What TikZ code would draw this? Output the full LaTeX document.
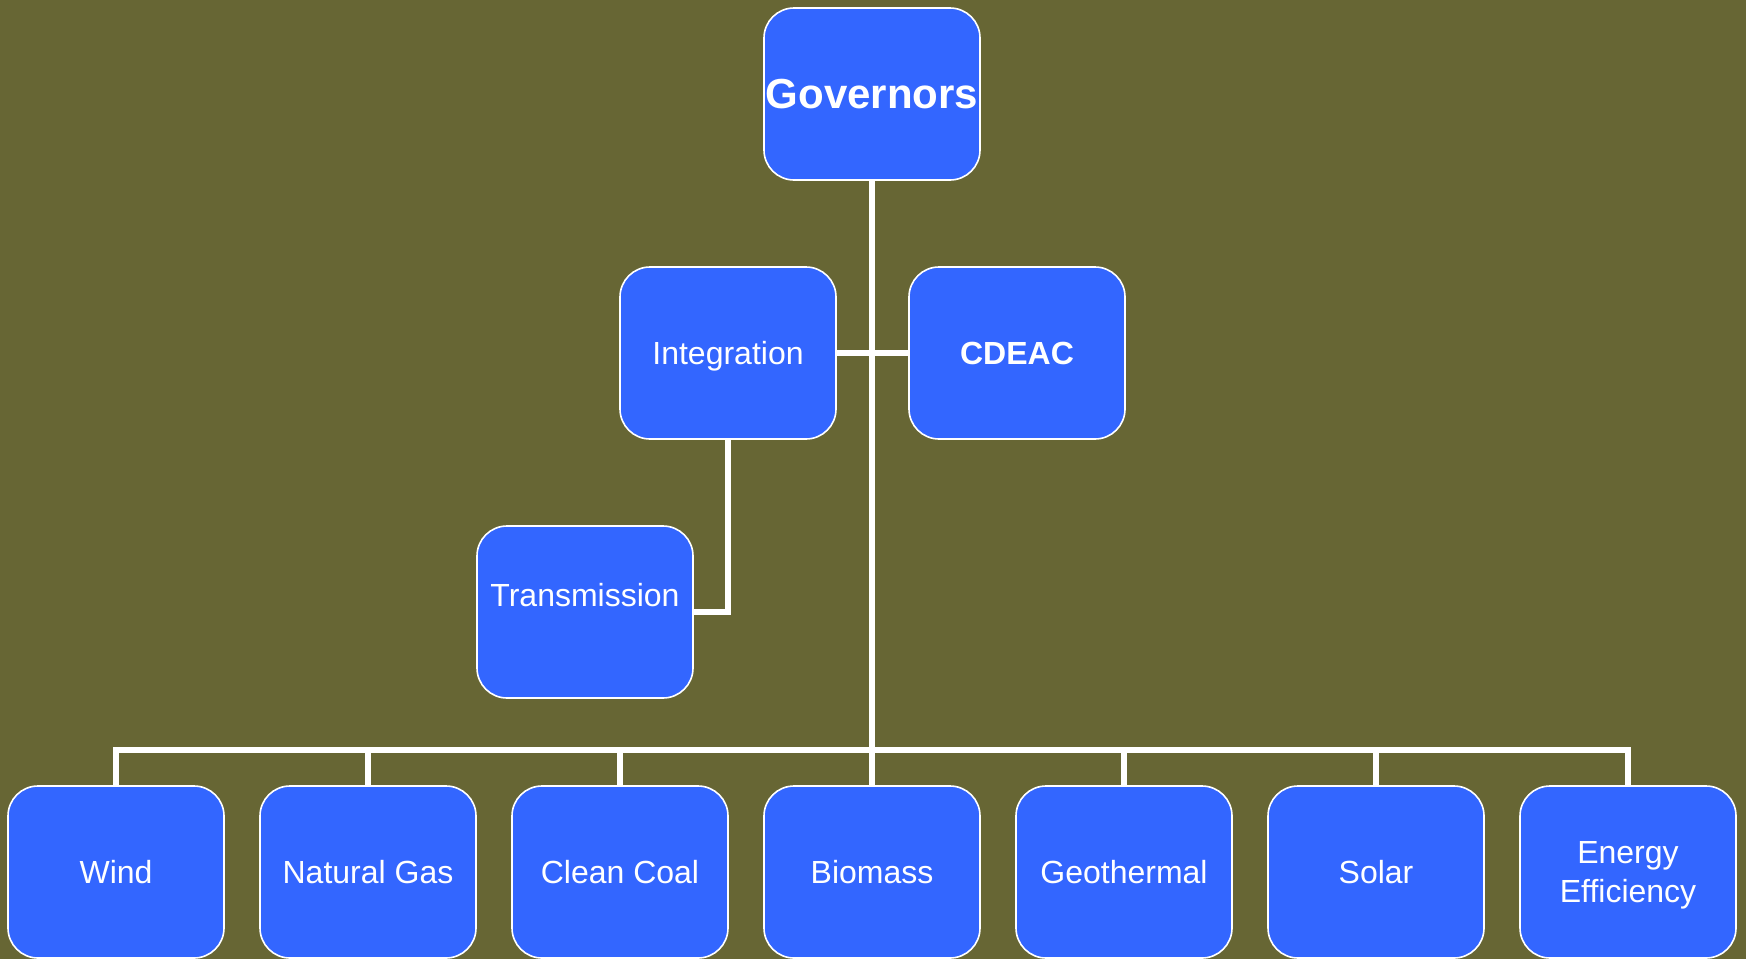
\documentclass[tikz,border=0pt]{standalone}
\usepackage{fontspec}
\setmainfont{Liberation Sans}
\usepackage{tikz}
\usetikzlibrary{calc}
\definecolor{olivebg}{RGB}{103,102,52}
\definecolor{boxblue}{RGB}{51,102,255}

\begin{document}
\begin{tikzpicture}[x=0.5pt,y=-0.5pt,
    box/.style={draw=white,line width=0.8pt,fill=boxblue,rounded corners=15pt,
      minimum width=108pt,minimum height=86pt,text=white,align=center,text depth=0pt,
      font=\fontsize{16}{19.2}\selectfont},
    conn/.style={draw=white,line width=3pt}]
                      \fill[olivebg] (0,0) rectangle (1746,959);
                      \node[box,inner sep=0.5pt,font=\fontsize{21}{25}\selectfont\bfseries] (gov) at (872,94) {Governors};
                      \node[box] (int) at (728,353) {Integration};
                      \node[box,font=\fontsize{16}{19.2}\selectfont\bfseries] (cdeac) at (1017,353) {CDEAC};
                      \node[box,label={[text=white,yshift=8.5pt,font=\fontsize{16}{19.2}\selectfont]center:Transmission}] (trans) at (585,612) {};
                      \coordinate (bus) at (872,750);
                      \foreach \nm/\txt [count=\i] in {wind/Wind,gas/Natural Gas,coal/Clean Coal,bio/Biomass,geo/Geothermal,solar/Solar,eff/{Energy\\Efficiency}}
                        \node[box] (\nm) at ({116+252*(\i-1)},872) {\txt};
                      \draw[conn] (gov.south) -- (bus);
                      \draw[conn] (int.east) -- (int.east -| gov.south);
                      \draw[conn] (cdeac.west) -- (cdeac.west -| gov.south);
                      \draw[conn] (int.south) |- (trans.east);
                      \draw[conn] (wind.north) -- (wind.north |- bus) -- (eff.north |- bus) -- (eff.north);
                      \foreach \nm in {gas,coal,bio,geo,solar}
                        \draw[conn] (\nm.north) -- (\nm.north |- bus);
                  \end{tikzpicture}
\end{document}
